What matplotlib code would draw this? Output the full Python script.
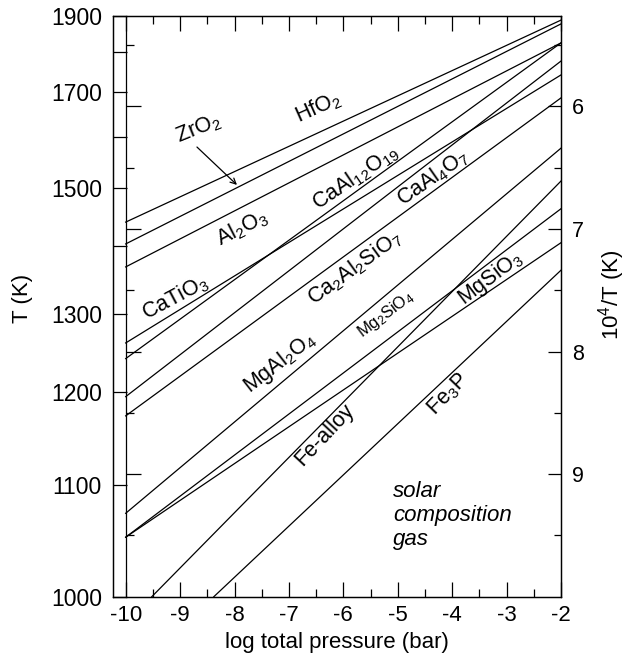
import numpy as np
import matplotlib.pyplot as plt
from matplotlib.ticker import FixedLocator, NullFormatter

plt.rcParams['font.family'] = ['Liberation Sans', 'DejaVu Sans']
plt.rcParams['mathtext.fontset'] = 'custom'
plt.rcParams['mathtext.rm'] = 'Liberation Sans'
plt.rcParams['mathtext.it'] = 'Liberation Sans:italic'
plt.rcParams['mathtext.default'] = 'rm'

# condensation curves, given by their two end points (log P in bar, T in K)
phases = ['HfO2', 'ZrO2', 'Al2O3', 'CaTiO3', 'CaAl12O19', 'CaAl4O7',
          'Ca2Al2SiO7', 'MgAl2O4', 'Mg2SiO4', 'MgSiO3', 'Fe-alloy', 'Fe3P']
logp_a = [-10, -10, -10, -10, -10, -10, -10, -10, -10, -10, -9.52, -8.38]
temp_a = [1440, 1404, 1368, 1261, 1241, 1195, 1173, 1073, 1051, 1051, 1000, 1000]
logp_b = [-2, -2, -2, -2, -2, -2, -2, -2, -2, -2, -2, -2]
temp_b = [1888, 1877, 1824, 1741, 1824, 1776, 1686, 1577, 1463, 1406, 1513, 1363]

# labels: text, log P, 10^4/T, angle, size
labels = [
    ('HfO$_2$', -6.47, 6.01, 24, 15.5),
    ('ZrO$_2$', -8.67, 6.18, 22, 15.5),
    ('Al$_2$O$_3$', -7.86, 6.99, 27, 15.5),
    ('CaTiO$_3$', -9.09, 7.56, 28, 15.5),
    ('CaAl$_{12}$O$_{19}$', -5.77, 6.58, 34, 15.5),
    ('CaAl$_4$O$_7$', -4.35, 6.58, 35, 15.5),
    ('Ca$_2$Al$_2$SiO$_7$', -5.78, 7.32, 36, 15.5),
    ('MgAl$_2$O$_4$', -7.16, 8.09, 38, 15.5),
    ('Mg$_2$SiO$_4$', -5.23, 7.70, 37, 12),
    ('MgSiO$_3$', -3.30, 7.40, 37, 15.5),
    ('Fe-alloy', -6.34, 8.68, 47, 15.5),
    ('Fe$_3$P', -4.08, 8.35, 46, 15.5),
]

t_major = [1900, 1700, 1500, 1300, 1200, 1100, 1000]
t_minor = [1800, 1600, 1400]
inv_major = [6, 7, 8, 9]
inv_minor = [5.5, 6.5, 7.5, 8.5, 9.5]

fig = plt.figure(figsize=(6.26, 6.63), dpi=100)
W, H = 626, 663
x0, x1, ytop, ybot = 113, 561, 16, 596.7
ax = fig.add_axes([x0 / W, 1 - ybot / H, (x1 - x0) / W, (ybot - ytop) / H])

for i in range(len(phases)):
    ax.plot([logp_a[i], logp_b[i]], [1e4 / temp_a[i], 1e4 / temp_b[i]],
            color='k', lw=0.9)

for txt, lp, u, ang, fs in labels:
    ax.text(lp, u, txt, rotation=ang, rotation_mode='anchor',
            ha='center', va='center', fontsize=fs)

ax.annotate('', xy=(-7.955, 6.641), xytext=(-8.69, 6.332),
            arrowprops=dict(arrowstyle='->', lw=0.9, color='k',
                            shrinkA=0, shrinkB=0))

ax.text(-5.09, 9.34, 'solar\ncomposition\ngas', style='italic',
        fontsize=16, ha='left', va='center', linespacing=1.2)

ax.set_xlim(-10.233, -2)
ax.set_ylim(10, 1e4 / 1900)

ax.set_xticks(np.arange(-10, -1, 1))
ax.xaxis.set_minor_locator(FixedLocator(np.arange(-9.5, -2, 1)))
ax.set_xticklabels([str(v) for v in range(-10, -1)])
ax.set_yticks([1e4 / t for t in t_major])
ax.set_yticklabels([str(t) for t in t_major])
ax.yaxis.set_minor_locator(FixedLocator([1e4 / t for t in t_minor]))
ax.tick_params(axis='both', which='both', direction='in', width=0.9,
               labelsize=16)
ax.tick_params(axis='y', which='major', labelsize=16.5)
ax.tick_params(axis='x', which='major', length=10.5, pad=6, top=True)
ax.tick_params(axis='x', which='minor', length=5.5, top=True)
ax.tick_params(axis='y', which='both', length=10, pad=8, right=False)
ax.set_xlabel('log total pressure (bar)', fontsize=16, labelpad=4)
ax.set_ylabel('T (K)', fontsize=16, va='center')
ax.yaxis.set_label_coords(-0.203, 0.514)

# right-hand scale in 10^4/T
ax_r = ax.twinx()
ax_r.set_ylim(ax.get_ylim())
ax_r.set_yticks(inv_major)
ax_r.yaxis.set_minor_locator(FixedLocator(inv_minor))
ax_r.tick_params(which='both', direction='in', width=0.9, labelsize=15.5, pad=8)
ax_r.tick_params(which='major', length=9.5)
ax_r.tick_params(which='minor', length=5)
ax_r.set_ylabel('10$^4$/T (K)', fontsize=16, va='center')
ax_r.yaxis.set_label_coords(1.113, 0.52)

# inner scale on the log P = -10 line
xi = 125.7
ax_in = fig.add_axes([xi / W, 1 - ybot / H, (x1 - xi) / W, (ybot - ytop) / H])
ax_in.patch.set_visible(False)
for s in ['top', 'right', 'bottom']:
    ax_in.spines[s].set_visible(False)
ax_in.spines['left'].set_linewidth(0.9)
ax_in.set_ylim(ax.get_ylim())
ax_in.set_xticks([])
ax_in.set_yticks(inv_major)
ax_in.yaxis.set_minor_locator(FixedLocator(inv_minor))
ax_in.yaxis.set_major_formatter(NullFormatter())
ax_in.tick_params(which='both', direction='in', width=0.9)
ax_in.tick_params(which='major', length=10.5)
ax_in.tick_params(which='minor', length=5.5)

for a in (ax, ax_r):
    for s in a.spines.values():
        s.set_linewidth(0.9)

fig.savefig('out.png', dpi=100)
